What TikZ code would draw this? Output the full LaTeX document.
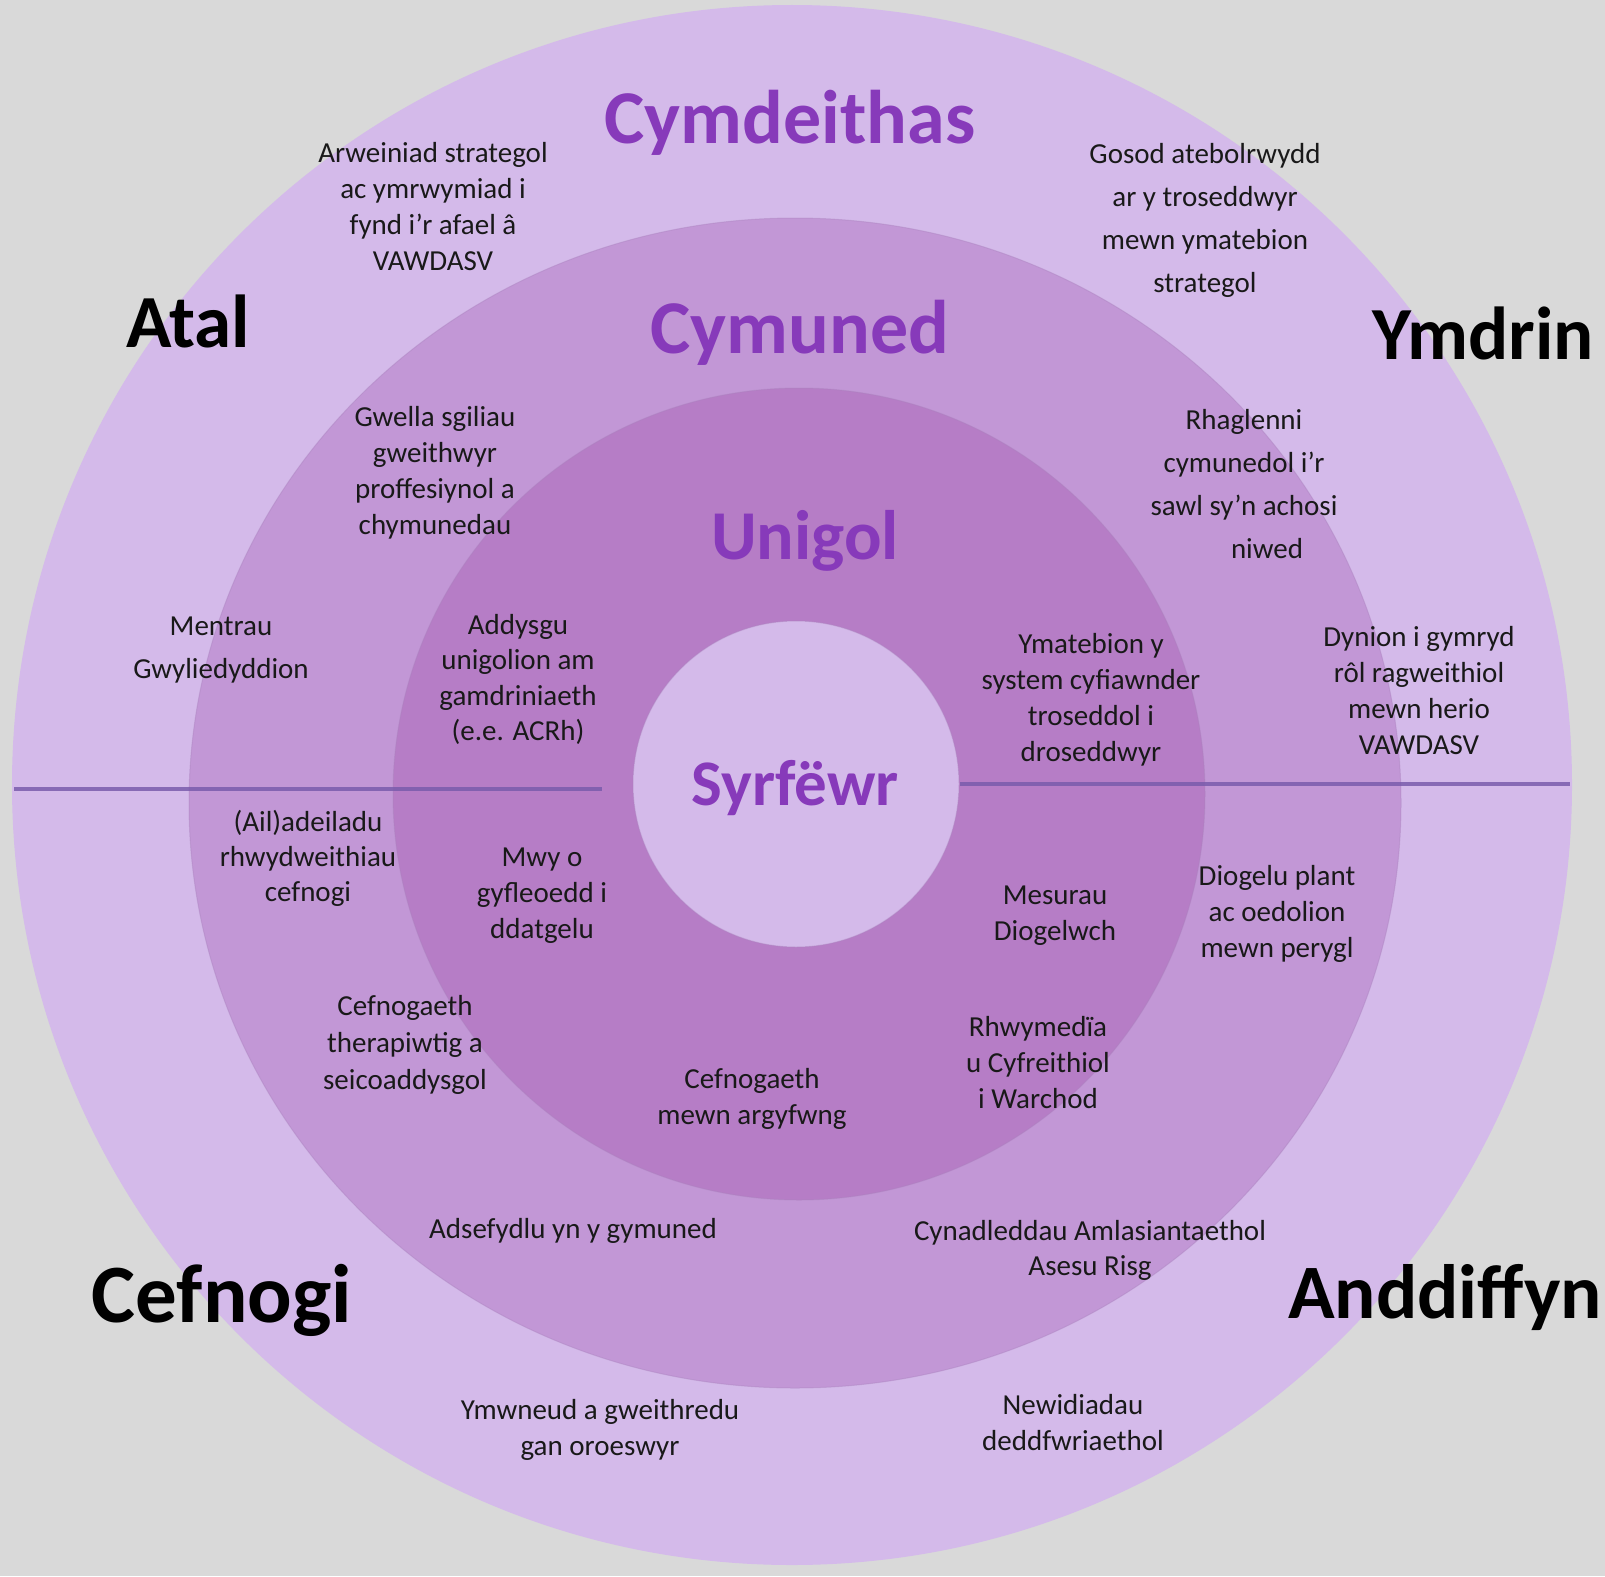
\documentclass[tikz,border=0pt]{standalone}
\usepackage{fontspec}
\setmainfont{Carlito}
\definecolor{bggray}{RGB}{217,217,217}
\definecolor{ringA}{RGB}{212,186,234}
\definecolor{ringB}{RGB}{194,151,214}
\definecolor{ringC}{RGB}{182,125,198}
\definecolor{ringedge}{RGB}{170,130,190}
\definecolor{titlepurple}{RGB}{135,58,186}
\definecolor{divline}{RGB}{122,92,172}
\newcommand\blk[2]{\vtop{\baselineskip=#1pt\relax\lineskiplimit=-100pt\relax\halign{\hfil##\hfil\cr#2\crcr}}}
\begin{document}
\begin{tikzpicture}[x=1pt,y=-1pt,
  txt/.style={anchor=base,inner sep=0pt,font=\fontsize{29}{35}\selectfont,text=black!90},
  ttl/.style={anchor=base,inner sep=0pt,text=titlepurple,font=\bfseries\fontsize{#1}{#1}\selectfont},
  side/.style={anchor=base,inner sep=0pt,text=black,font=\bfseries\fontsize{#1}{#1}\selectfont},
  ring/.style={draw=ringedge,line width=1pt,draw opacity=0.4}]
\useasboundingbox (0,0) rectangle (1605,1576);
\fill[bggray] (0,0) rectangle (1605,1576);
% rings
\fill[ringA] (792,785) circle [radius=780];
\fill[ringB,ring] (795,803) ellipse [x radius=606,y radius=585];
\fill[ringC,ring] (799,794) circle [radius=406];
\fill[ringA,ring] (796,784) circle [radius=163];
% dividing lines
\coordinate (l1) at (14,789);
\coordinate (l2) at (602,789);
\coordinate (r1) at (960,784);
\coordinate (r2) at (1570,784);
\draw[divline,line width=3.5pt,opacity=0.85] (l1) -- (l2);
\draw[divline,line width=3.5pt,opacity=0.85] (r1) -- (r2);
% titles
\node[ttl=76] (cymdeithas) at (790,143) {Cymdeithas};
\node[ttl=76] (cymuned) at (800,353) {Cymuned};
\node[ttl=70] (unigol) at (805,559) {Unigol};
\node[ttl=65] (syrfewr) at (795,805) {Syrfëwr};
% side labels
\node[side=75] (atal) at (188,347) {Atal};
\node[side=75] (ymdrin) at (1483,359) {Ymdrin};
\node[side=83] (cefnogi) at (222,1322) {Cefnogi};
\node[side=77] (anddiffyn) at (1445,1318) {Anddiffyn};
% text blocks
\node[txt] (t1) at (433,162) {\blk{36}{Arweiniad strategol\cr ac ymrwymiad i\cr fynd i’r afael â\cr VAWDASV}};
\node[txt] (t2) at (435,426) {\blk{36}{Gwella sgiliau\cr gweithwyr\cr proffesiynol a\cr chymunedau}};
\node[txt] (t3) at (221,635) {\blk{43}{Mentrau\cr Gwyliedyddion}};
\node[txt] (t4) at (518,634) {\blk{35.5}{Addysgu\cr unigolion am\cr gamdriniaeth\cr (e.e. ACRh)}};
\node[txt] (t5) at (1205,163) {\blk{43.3}{Gosod atebolrwydd\cr ar y troseddwyr\cr mewn ymatebion\cr strategol}};
\node[txt] (t6) at (1244,429) {\blk{43}{Rhaglenni\cr cymunedol i’r\cr sawl sy’n achosi\cr \hspace{46pt}niwed}};
\node[txt] (t7) at (1091,653) {\blk{36}{Ymatebion y\cr system cyfiawnder\cr troseddol i\cr droseddwyr}};
\node[txt] (t8) at (1419,646) {\blk{36}{Dynion i gymryd\cr rôl ragweithiol\cr mewn herio\cr VAWDASV}};
\node[txt] (t9) at (308,831) {\blk{35}{(Ail)adeiladu\cr rhwydweithiau\cr cefnogi}};
\node[txt] (t10) at (542,866) {\blk{36}{Mwy o\cr gyfleoedd i\cr ddatgelu}};
\node[txt] (t11) at (405,1015) {\blk{37}{Cefnogaeth\cr therapiwtig a\cr seicoaddysgol}};
\node[txt] (t12) at (573,1238) {Adsefydlu yn y gymuned};
\node[txt] (t13) at (600,1419) {\blk{36}{Ymwneud a gweithredu\cr gan oroeswyr}};
\node[txt] (t14) at (752,1088) {\blk{36}{Cefnogaeth\cr mewn argyfwng}};
\node[txt] (t15) at (1055,904) {\blk{36}{Mesurau\cr Diogelwch}};
\node[txt] (t16) at (1277,885) {\blk{36}{Diogelu plant\cr ac oedolion\cr mewn perygl}};
\node[txt] (t17) at (1038,1036) {\blk{36}{Rhwymedïa\cr u Cyfreithiol\cr i Warchod}};
\node[txt] (t18) at (1090,1240) {\blk{35}{Cynadleddau Amlasiantaethol\cr Asesu Risg}};
\node[txt] (t19) at (1073,1414) {\blk{36}{Newidiadau\cr deddfwriaethol}};
\end{tikzpicture}
\end{document}
